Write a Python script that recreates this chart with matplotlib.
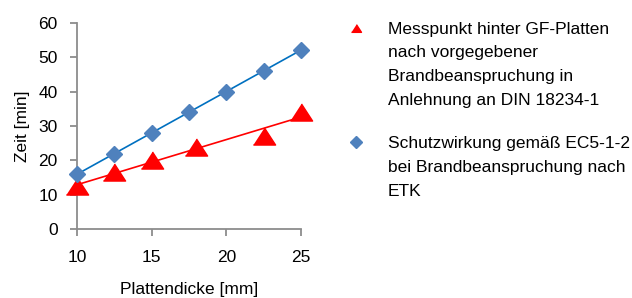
import numpy as np
import matplotlib
matplotlib.use("Agg")
import matplotlib.pyplot as plt
from matplotlib.lines import Line2D

# Werte
dicke_mess = [10, 12.5, 15, 18, 22.5, 25]
zeit_mess = [12.5, 16.5, 20, 24, 27, 34]

dicke_ec5 = [10, 12.5, 15, 17.5, 20, 22.5, 25]
zeit_ec5 = [16, 22, 28, 34, 40, 46, 52]

x_ticks = [10, 15, 20, 25]
y_ticks = [0, 10, 20, 30, 40, 50, 60]

label_mess = "Messpunkt hinter GF-Platten\nnach vorgegebener\nBrandbeanspruchung in\nAnlehnung an DIN 18234-1"
label_ec5 = "Schutzwirkung gemäß EC5-1-2\nbei Brandbeanspruchung nach\nETK"

plt.rcParams['font.family'] = ['Liberation Sans', 'DejaVu Sans']
plt.rcParams['font.size'] = 12.5

grau = "#8c8c8c"
rot = "#ff0000"
blau_mark = "#4f81bd"
blau_linie = "#0070c0"

fig = plt.figure(figsize=(6.32, 2.98), dpi=100)
ax = fig.add_axes([0.122, 0.2305, 0.354, 0.6935])

# dreieck etwas flacher als das standard-marker
tri = [(-1, -0.77), (1, -0.77), (0, 0.77)]

# trendlinien (linear)
for xs, ys, c in [(dicke_mess, zeit_mess, rot), (dicke_ec5, zeit_ec5, blau_linie)]:
    p = np.polyfit(xs, ys, 1)
    xx = np.array([min(xs), max(xs)])
    ax.plot(xx, np.polyval(p, xx), color=c, lw=1.2, zorder=2)

ax.plot(dicke_mess, zeit_mess, ls="none", marker=tri, ms=16,
        color=rot, mec=rot, zorder=3, clip_on=False)
ax.plot(dicke_ec5, zeit_ec5, ls="none", marker="D", ms=8.5,
        color=blau_mark, mec=blau_mark, zorder=4, clip_on=False)

ax.set_xlim(10, 25)
ax.set_ylim(0, 60)
ax.set_xticks(x_ticks)
ax.set_yticks(y_ticks)

for s in ["top", "right"]:
    ax.spines[s].set_visible(False)
for s in ["left", "bottom"]:
    ax.spines[s].set_color(grau)
    ax.spines[s].set_linewidth(1.3)
ax.tick_params(axis="both", direction="out", length=5, width=1.3, color=grau)
ax.tick_params(axis="y", pad=9)
ax.tick_params(axis="x", pad=10)

ax.set_xlabel("Plattendicke [mm]", labelpad=12)
ax.set_ylabel("Zeit [min]", labelpad=6)

# legende: kleinere marker als im diagramm
h1 = Line2D([], [], ls="none", marker=tri, ms=7.2, color=rot, mec=rot)
h2 = Line2D([], [], ls="none", marker="D", ms=6, color=blau_mark, mec=blau_mark)
leg = fig.legend([h1, h2], [label_mess, label_ec5], loc="upper left",
                 bbox_to_anchor=(0.539, 0.95), frameon=False,
                 handlelength=1.0, handletextpad=1.3,
                 labelspacing=1.65, borderaxespad=0)
for t in leg.get_texts():
    t.set_linespacing(1.72)
# marker an der ersten zeile ausrichten
for col in leg._legend_handle_box.get_children():
    for row in col.get_children():
        row.align = "top"

fig.savefig("out.png", dpi=100)
